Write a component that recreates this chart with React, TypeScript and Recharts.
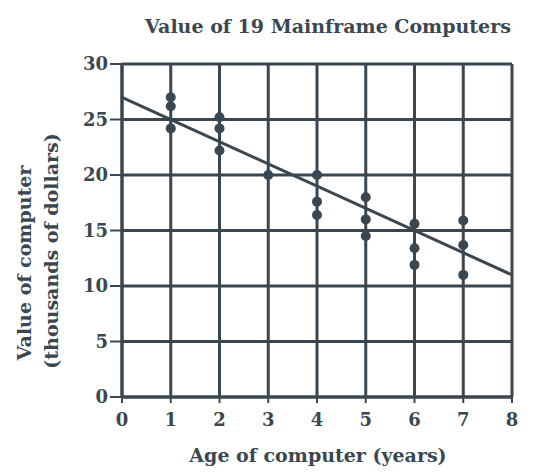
import { ComposedChart, Scatter, Line, XAxis, YAxis, CartesianGrid } from "recharts";

const ink = "#3b4750";
const font = "DejaVu Serif";

// ages (years) and values (thousands of dollars)
const ages = [1, 1, 1, 2, 2, 2, 3, 4, 4, 4, 5, 5, 5, 6, 6, 6, 7, 7, 7];
const values = [27, 26.2, 24.2, 25.2, 24.2, 22.2, 20, 20, 17.6, 16.4, 18, 16, 14.5, 15.6, 13.4, 11.9, 15.9, 13.7, 11];

const xTicks = [0, 1, 2, 3, 4, 5, 6, 7, 8];
const yTicks = [0, 5, 10, 15, 20, 25, 30];

// line of best fit endpoints
const fitAges = [0, 8];
const fitValues = [27, 11];

const points = ages.map((a, i) => ({ x: a, y: values[i] }));
const fitLine = fitAges.map((a, i) => ({ x: a, fit: fitValues[i] }));

const tickStyle = { fill: ink, fontFamily: font, fontWeight: 700, fontSize: 18 };

const YLabel = () => (
  <g fill={ink} fontFamily={font} fontWeight={600} fontSize={19}>
    <text transform="translate(31,263) rotate(-90)" textAnchor="middle">Value of computer</text>
    <text transform="translate(58,251) rotate(-90)" textAnchor="middle">(thousands of dollars)</text>
  </g>
);

export default function App() {
  return (
    <div style={{ position: "absolute", left: 0, top: 0, width: 540, height: 473, background: "#fff" }}>
      <svg width={540} height={473} style={{ position: "absolute", left: 0, top: 0, pointerEvents: "none" }}>
        <text x={328} y={33} textAnchor="middle" fill={ink} fontFamily={font} fontWeight={600} fontSize={19}>
          Value of 19 Mainframe Computers
        </text>
        <text x={318} y={462} textAnchor="middle" fill={ink} fontFamily={font} fontWeight={600} fontSize={19}>
          Age of computer (years)
        </text>
        <YLabel />
      </svg>
      <ComposedChart
        width={540}
        height={473}
        margin={{ top: 64, right: 28, bottom: 0, left: 0 }}
        style={{ position: "absolute", left: 0, top: 0 }}
      >
        <CartesianGrid stroke={ink} strokeWidth={3} />
        <XAxis
          type="number"
          dataKey="x"
          domain={[0, 8]}
          ticks={xTicks}
          height={76}
          axisLine={{ stroke: ink, strokeWidth: 3 }}
          tickLine={{ stroke: ink, strokeWidth: 2 }}
          tickSize={6}
          tickMargin={10}
          tick={tickStyle}
          interval={0}
        />
        <YAxis
          type="number"
          dataKey="y"
          domain={[0, 30]}
          ticks={yTicks}
          width={122}
          axisLine={{ stroke: ink, strokeWidth: 3 }}
          tickLine={{ stroke: ink, strokeWidth: 2 }}
          tickSize={12}
          tickMargin={2}
          tick={tickStyle}
          interval={0}
        />
        <Line
          data={fitLine}
          dataKey="fit"
          stroke={ink}
          strokeWidth={3}
          dot={false}
          isAnimationActive={false}
        />
        <Scatter
          data={points}
          fill={ink}
          shape={(p: any) => <circle cx={p.cx} cy={p.cy} r={5} fill={ink} />}
          isAnimationActive={false}
        />
      </ComposedChart>
    </div>
  );
}
